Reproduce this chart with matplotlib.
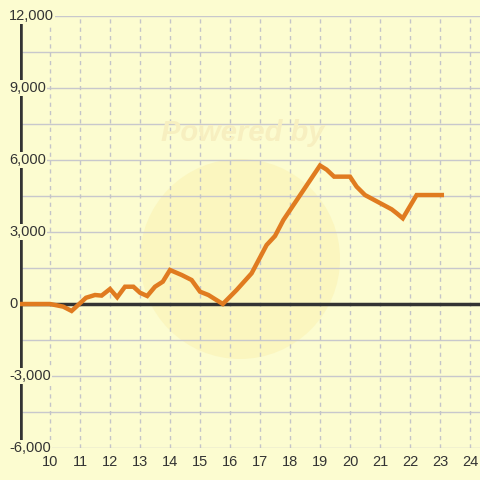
import matplotlib
matplotlib.use("Agg")
import matplotlib.pyplot as plt
from matplotlib.patches import Circle

# Data
x_vals = [9, 10, 10.44, 10.72, 11.2, 11.5, 11.72, 12.0, 12.24, 12.5, 12.78, 13.0, 13.24,
          13.5, 13.76, 14.0, 14.39, 14.72, 15.0, 15.28, 15.76, 16.22, 16.72, 17.22, 17.5,
          17.78, 19.0, 19.22, 19.47, 20.0, 20.22, 20.5, 21.39, 21.56, 21.76, 22.22, 23.06]
y_vals = [0, 0, -110, -290, 260, 375, 350, 625, 280, 720, 720, 470, 333,
          720, 930, 1417, 1208, 1000, 514, 375, 0, 583, 1278, 2458, 2833,
          3500, 5770, 5600, 5306, 5306, 4890, 4540, 3944, 3778, 3570, 4540, 4540]
x_ticks = list(range(10, 25))
y_ticks = [-6000, -3000, 0, 3000, 6000, 9000, 12000]
y_tick_labels = ["-6,000", "-3,000", "0", "3,000", "6,000", "9,000", "12,000"]

bg = "#fcfcd0"
plt.rcParams['font.family'] = ['Liberation Sans', 'DejaVu Sans']

fig = plt.figure(figsize=(4.8, 4.8), dpi=100, facecolor=bg)
ax = fig.add_axes([20/480, 32/480, 460/480, 432/480])
ax.set_facecolor(bg)
ax.set_xlim(9, 9 + 460/30)
ax.set_ylim(-6000, 12000)

# watermark
circ = Circle((240/480, (480-259)/480), 100/480, transform=fig.transFigure,
              facecolor="#fbf2b4", edgecolor="none", alpha=0.6, zorder=0)
ax.add_patch(circ)
fig.text(243/480, (480-133)/480, "Powered by", ha="center", va="center",
         fontsize=21, fontweight="bold", style="italic", color="#f7efc0", zorder=0)

# grid
for yv in range(-6000, 12001, 1500):
    ax.axhline(yv, color="#c8c8cc", lw=1, zorder=1)
for xv in x_ticks:
    ax.axvline(xv, color="#c4c4c8", lw=1, ls=(0, (3, 3)), zorder=1)

ax.axhline(0, color="#333333", lw=2.5, zorder=2)
ax.axvline(9, color="#333333", lw=4, zorder=2)

ax.plot(x_vals, y_vals, color="#e07b20", lw=3.2, solid_joinstyle="miter", zorder=3)

for s in ax.spines.values():
    s.set_visible(False)
ax.set_xticks(x_ticks)
ax.set_xticklabels([str(t) for t in x_ticks])
ax.tick_params(axis="x", length=0, labelsize=10.5, labelcolor="#333333", pad=5)
ax.set_yticks([])

for yt, lab in zip(y_ticks, y_tick_labels):
    ax.annotate(lab, xy=(0, yt), xycoords=("figure fraction", "data"),
                xytext=(9, 0), textcoords="offset pixels", ha="left", va="center",
                fontsize=10.5, color="#333333", zorder=5,
                bbox=dict(facecolor=bg, edgecolor="none", pad=1.0), annotation_clip=False)

fig.savefig("out.png", dpi=100, facecolor=bg)
